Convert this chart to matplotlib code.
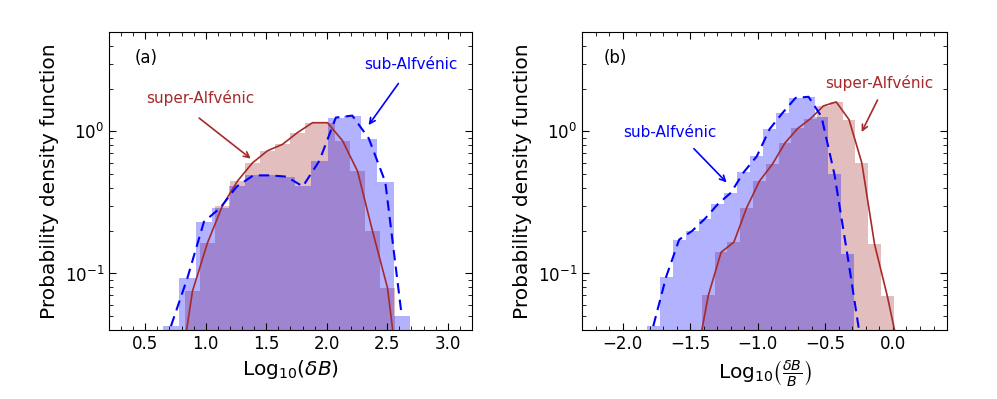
import numpy as np
import matplotlib.pyplot as plt
from matplotlib.ticker import MultipleLocator

# panel (a): Log10(dB), histogram heights (density) per bin, bins uniform in [lo, hi]
sub_a_lo, sub_a_hi = 0.644, 2.688
sub_a = [0.0426, 0.093, 0.231, 0.29, 0.41, 0.49, 0.49, 0.48, 0.41, 0.62,
         1.25, 1.29, 0.89, 0.44, 0.050]
super_a_lo, super_a_hi = 0.704, 2.688
super_a = [0.015, 0.075, 0.164, 0.30, 0.447, 0.60, 0.73, 0.81, 0.98, 1.15,
           1.15, 0.86, 0.525, 0.199, 0.079, 0.011]

# panel (b): Log10(dB/B)
sub_b_lo, sub_b_hi = -1.821, -0.194
sub_b = [0.0426, 0.095, 0.173, 0.199, 0.243, 0.308, 0.37, 0.517, 0.667, 1.04,
         1.35, 1.72, 1.75, 1.27, 0.50, 0.136, 0.035]
super_b_lo, super_b_hi = -1.508, 0.1006
super_b = [0.023, 0.070, 0.141, 0.166, 0.29, 0.447, 0.585, 0.83, 1.05, 1.23,
           1.51, 1.61, 1.21, 0.60, 0.16, 0.069, 0.026]

BLUE = 'b'
BROWN = 'brown'


def draw_panel(ax, sub, sub_lo, sub_hi, sup, sup_lo, sup_hi):
    e_sup = np.linspace(sup_lo, sup_hi, len(sup) + 1)
    e_sub = np.linspace(sub_lo, sub_hi, len(sub) + 1)
    ax.stairs(sup, e_sup, baseline=1e-4, fill=True, color=BROWN, alpha=0.3, lw=0)
    ax.stairs(sub, e_sub, baseline=1e-4, fill=True, color=BLUE, alpha=0.3, lw=0)
    c_sup = 0.5 * (e_sup[:-1] + e_sup[1:])
    c_sub = 0.5 * (e_sub[:-1] + e_sub[1:])
    ax.plot(c_sup, sup, color=BROWN, lw=1.2)
    ax.plot(c_sub, sub, color=BLUE, lw=1.5, ls=(0, (5, 3)))
    ax.set_yscale('log')
    ax.set_ylim(0.04, 5)
    ax.set_ylabel('Probability density function', fontsize=14.5)
    ax.xaxis.set_minor_locator(MultipleLocator(0.1))
    ax.xaxis.set_major_locator(MultipleLocator(0.5))
    ax.tick_params(which='both', direction='in', top=True, right=True, labelsize=12)
    ax.tick_params(which='major', length=5)
    ax.tick_params(which='minor', length=3)


fig = plt.figure(figsize=(9.97, 3.99), dpi=100)
ax1 = fig.add_axes([0.1093, 0.1729, 0.3641, 0.7469])
ax2 = fig.add_axes([0.5838, 0.1729, 0.3661, 0.7469])

draw_panel(ax1, sub_a, sub_a_lo, sub_a_hi, super_a, super_a_lo, super_a_hi)
ax1.set_xlim(0.2, 3.2)
ax1.set_xlabel(r'Log$_{10}(\delta B)$', fontsize=14.5)
ax1.text(0.101, 0.914, '(a)', transform=ax1.transAxes, ha='center', va='center', fontsize=12)
ax1.text(2.694, 2.96, 'sub-Alfvénic', color=BLUE, ha='center', va='center', fontsize=11)
ax1.annotate('', xy=(2.332, 1.067), xytext=(2.605, 2.25),
             arrowprops=dict(arrowstyle='->', color=BLUE, lw=1.2))
ax1.text(0.952, 1.73, 'super-Alfvénic', color=BROWN, ha='center', va='center', fontsize=11)
ax1.annotate('', xy=(1.39, 0.625), xytext=(0.927, 1.275),
             arrowprops=dict(arrowstyle='->', color=BROWN, lw=1.2))

draw_panel(ax2, sub_b, sub_b_lo, sub_b_hi, super_b, super_b_lo, super_b_hi)
ax2.set_xlim(-2.3, 0.4)
ax2.set_xlabel(r'Log$_{10}\left(\frac{\delta B}{B}\right)$', fontsize=14.5)
ax2.text(0.091, 0.914, '(b)', transform=ax2.transAxes, ha='center', va='center', fontsize=12)
ax2.text(-0.098, 2.18, 'super-Alfvénic', color=BROWN, ha='center', va='center', fontsize=11)
ax2.annotate('', xy=(-0.241, 0.95), xytext=(-0.105, 1.73),
             arrowprops=dict(arrowstyle='->', color=BROWN, lw=1.2))
ax2.text(-1.648, 0.98, 'sub-Alfvénic', color=BLUE, ha='center', va='center', fontsize=11)
ax2.annotate('', xy=(-1.216, 0.423), xytext=(-1.487, 0.78),
             arrowprops=dict(arrowstyle='->', color=BLUE, lw=1.2))

fig.savefig('out.png', dpi=100)
